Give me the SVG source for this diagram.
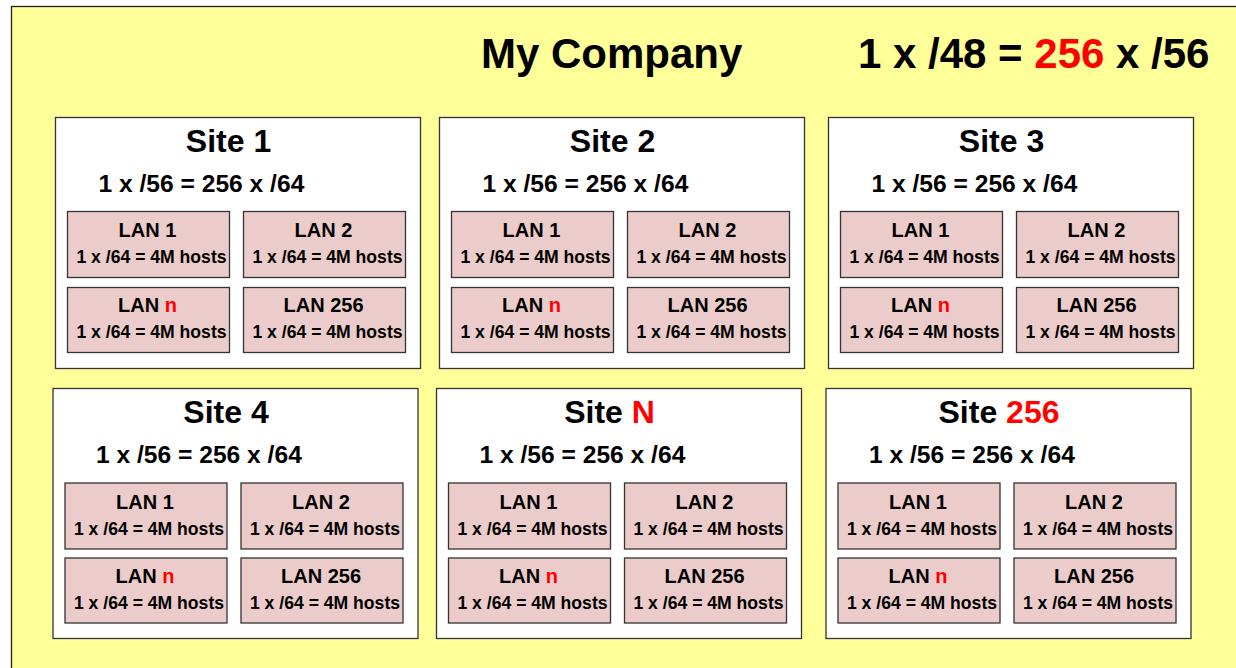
<svg xmlns="http://www.w3.org/2000/svg" width="1236" height="668" viewBox="0 0 1236 668">
<defs>
<style>
text{font-family:"Liberation Sans",Arial,Helvetica,sans-serif;font-weight:bold;fill:#000}
.bg{fill:#FFFF99;stroke:#222;stroke-width:1.3}
.site{fill:#FFFFFF;stroke:#333;stroke-width:1.3}
.lan{fill:#ECCCCB;stroke:#333;stroke-width:1.3}
.big{font-size:42px}
.st{font-size:32px;text-anchor:middle}
.sub{font-size:24.6px}
.lt{font-size:20px;text-anchor:middle}
.lh{font-size:17.6px;text-anchor:middle}
.red{fill:#FF0000}
</style>
</defs>
<rect class="bg" x="11.5" y="6.5" width="1240" height="680"/>
<g id="title">
<text class="big" x="481" y="68">My Company</text>
<text class="big" x="858" y="68">1 x /48 = <tspan class="red">256</tspan> x /56</text>
</g>
<g id="connectors"/>

<g id="site1" transform="translate(55.5,117.5)">
<rect class="site" x="0" y="0" width="365" height="251"/>
<text class="st" x="173" y="34.5">Site 1</text>
<text class="sub" x="43" y="74.5">1 x /56 = 256 x /64</text>
<g id="site1-lan1" transform="translate(12,94)"><rect class="lan" width="162" height="66"/><text class="lt" x="80" y="25.5">LAN 1</text><text class="lh" x="84" y="51.5">1 x /64 = 4M hosts</text></g>
<g id="site1-lan2" transform="translate(188,94)"><rect class="lan" width="162" height="66"/><text class="lt" x="80" y="25.5">LAN 2</text><text class="lh" x="84" y="51.5">1 x /64 = 4M hosts</text></g>
<g id="site1-lann" transform="translate(12,170)"><rect class="lan" width="162" height="65"/><text class="lt" x="80" y="24.5">LAN <tspan class="red">n</tspan></text><text class="lh" x="84" y="50.5">1 x /64 = 4M hosts</text></g>
<g id="site1-lan256" transform="translate(188,170)"><rect class="lan" width="162" height="65"/><text class="lt" x="80" y="24.5">LAN 256</text><text class="lh" x="84" y="50.5">1 x /64 = 4M hosts</text></g>
</g>

<g id="site2" transform="translate(439.5,117.5)">
<rect class="site" x="0" y="0" width="365" height="251"/>
<text class="st" x="173" y="34.5">Site 2</text>
<text class="sub" x="43" y="74.5">1 x /56 = 256 x /64</text>
<g id="site2-lan1" transform="translate(12,94)"><rect class="lan" width="162" height="66"/><text class="lt" x="80" y="25.5">LAN 1</text><text class="lh" x="84" y="51.5">1 x /64 = 4M hosts</text></g>
<g id="site2-lan2" transform="translate(188,94)"><rect class="lan" width="162" height="66"/><text class="lt" x="80" y="25.5">LAN 2</text><text class="lh" x="84" y="51.5">1 x /64 = 4M hosts</text></g>
<g id="site2-lann" transform="translate(12,170)"><rect class="lan" width="162" height="65"/><text class="lt" x="80" y="24.5">LAN <tspan class="red">n</tspan></text><text class="lh" x="84" y="50.5">1 x /64 = 4M hosts</text></g>
<g id="site2-lan256" transform="translate(188,170)"><rect class="lan" width="162" height="65"/><text class="lt" x="80" y="24.5">LAN 256</text><text class="lh" x="84" y="50.5">1 x /64 = 4M hosts</text></g>
</g>

<g id="site3" transform="translate(828.5,117.5)">
<rect class="site" x="0" y="0" width="365" height="251"/>
<text class="st" x="173" y="34.5">Site 3</text>
<text class="sub" x="43" y="74.5">1 x /56 = 256 x /64</text>
<g id="site3-lan1" transform="translate(12,94)"><rect class="lan" width="162" height="66"/><text class="lt" x="80" y="25.5">LAN 1</text><text class="lh" x="84" y="51.5">1 x /64 = 4M hosts</text></g>
<g id="site3-lan2" transform="translate(188,94)"><rect class="lan" width="162" height="66"/><text class="lt" x="80" y="25.5">LAN 2</text><text class="lh" x="84" y="51.5">1 x /64 = 4M hosts</text></g>
<g id="site3-lann" transform="translate(12,170)"><rect class="lan" width="162" height="65"/><text class="lt" x="80" y="24.5">LAN <tspan class="red">n</tspan></text><text class="lh" x="84" y="50.5">1 x /64 = 4M hosts</text></g>
<g id="site3-lan256" transform="translate(188,170)"><rect class="lan" width="162" height="65"/><text class="lt" x="80" y="24.5">LAN 256</text><text class="lh" x="84" y="50.5">1 x /64 = 4M hosts</text></g>
</g>

<g id="site4" transform="translate(53,388.5)">
<rect class="site" x="0" y="0" width="365" height="250"/>
<text class="st" x="173" y="34">Site 4</text>
<text class="sub" x="43" y="74">1 x /56 = 256 x /64</text>
<g id="site4-lan1" transform="translate(12,94.5)"><rect class="lan" width="162" height="66"/><text class="lt" x="80" y="25.5">LAN 1</text><text class="lh" x="84" y="51.5">1 x /64 = 4M hosts</text></g>
<g id="site4-lan2" transform="translate(188,94.5)"><rect class="lan" width="162" height="66"/><text class="lt" x="80" y="25.5">LAN 2</text><text class="lh" x="84" y="51.5">1 x /64 = 4M hosts</text></g>
<g id="site4-lann" transform="translate(12,169.5)"><rect class="lan" width="162" height="65"/><text class="lt" x="80" y="24.5">LAN <tspan class="red">n</tspan></text><text class="lh" x="84" y="50.5">1 x /64 = 4M hosts</text></g>
<g id="site4-lan256" transform="translate(188,169.5)"><rect class="lan" width="162" height="65"/><text class="lt" x="80" y="24.5">LAN 256</text><text class="lh" x="84" y="50.5">1 x /64 = 4M hosts</text></g>
</g>

<g id="siteN" transform="translate(436.5,388.5)">
<rect class="site" x="0" y="0" width="365" height="250"/>
<text class="st" x="173" y="34">Site <tspan class="red">N</tspan></text>
<text class="sub" x="43" y="74">1 x /56 = 256 x /64</text>
<g id="siteN-lan1" transform="translate(12,94.5)"><rect class="lan" width="162" height="66"/><text class="lt" x="80" y="25.5">LAN 1</text><text class="lh" x="84" y="51.5">1 x /64 = 4M hosts</text></g>
<g id="siteN-lan2" transform="translate(188,94.5)"><rect class="lan" width="162" height="66"/><text class="lt" x="80" y="25.5">LAN 2</text><text class="lh" x="84" y="51.5">1 x /64 = 4M hosts</text></g>
<g id="siteN-lann" transform="translate(12,169.5)"><rect class="lan" width="162" height="65"/><text class="lt" x="80" y="24.5">LAN <tspan class="red">n</tspan></text><text class="lh" x="84" y="50.5">1 x /64 = 4M hosts</text></g>
<g id="siteN-lan256" transform="translate(188,169.5)"><rect class="lan" width="162" height="65"/><text class="lt" x="80" y="24.5">LAN 256</text><text class="lh" x="84" y="50.5">1 x /64 = 4M hosts</text></g>
</g>

<g id="site256" transform="translate(826,388.5)">
<rect class="site" x="0" y="0" width="365" height="250"/>
<text class="st" x="173" y="34">Site <tspan class="red">256</tspan></text>
<text class="sub" x="43" y="74">1 x /56 = 256 x /64</text>
<g id="site256-lan1" transform="translate(12,94.5)"><rect class="lan" width="162" height="66"/><text class="lt" x="80" y="25.5">LAN 1</text><text class="lh" x="84" y="51.5">1 x /64 = 4M hosts</text></g>
<g id="site256-lan2" transform="translate(188,94.5)"><rect class="lan" width="162" height="66"/><text class="lt" x="80" y="25.5">LAN 2</text><text class="lh" x="84" y="51.5">1 x /64 = 4M hosts</text></g>
<g id="site256-lann" transform="translate(12,169.5)"><rect class="lan" width="162" height="65"/><text class="lt" x="80" y="24.5">LAN <tspan class="red">n</tspan></text><text class="lh" x="84" y="50.5">1 x /64 = 4M hosts</text></g>
<g id="site256-lan256" transform="translate(188,169.5)"><rect class="lan" width="162" height="65"/><text class="lt" x="80" y="24.5">LAN 256</text><text class="lh" x="84" y="50.5">1 x /64 = 4M hosts</text></g>
</g>
</svg>
